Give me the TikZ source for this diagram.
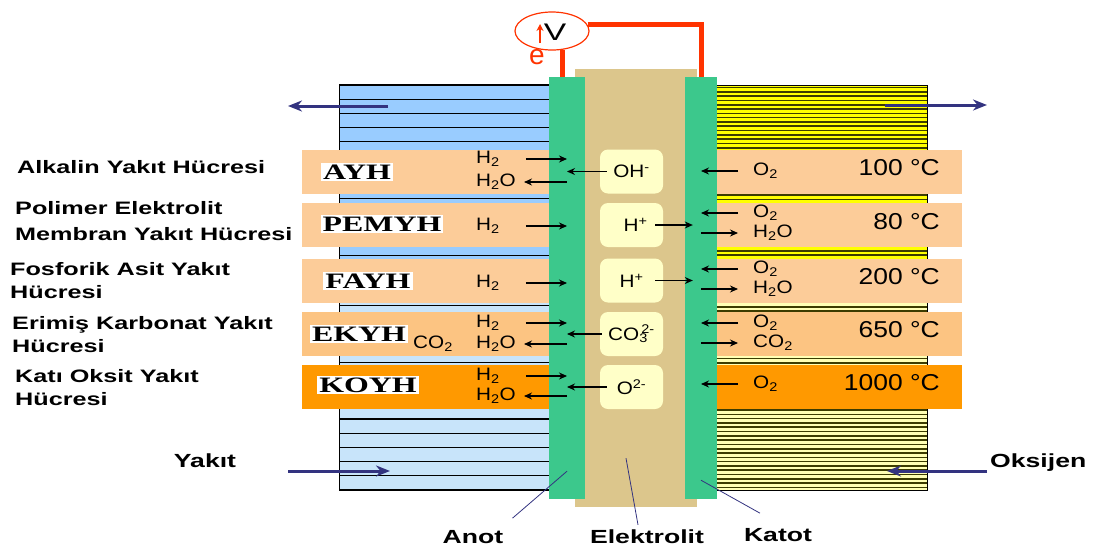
\documentclass[tikz,border=0pt]{standalone}
\usepackage{fontspec}
\setmainfont{Liberation Sans}[FakeStretch=1.4]
\newfontfamily\chemfont{Liberation Sans}[FakeStretch=1.15]
\newfontfamily\serfont{Liberation Serif}[FakeStretch=1.45]
\newfontfamily\plainfont{Liberation Sans}
\usetikzlibrary{positioning, arrows.meta, shapes.geometric, calc}
\definecolor{blueTop}{RGB}{153,204,255}
\definecolor{bluePale}{RGB}{200,228,250}
\definecolor{yelTop}{RGB}{255,255,0}
\definecolor{yelPale}{RGB}{255,255,180}
\definecolor{stripe}{RGB}{60,60,0}
\definecolor{bandA}{RGB}{252,204,153}
\definecolor{bandB}{RGB}{252,196,130}
\definecolor{bandC}{RGB}{255,153,0}
\definecolor{elgreen}{RGB}{60,200,140}
\definecolor{eltan}{RGB}{220,198,140}
\definecolor{ionfill}{RGB}{255,255,200}
\definecolor{navy}{RGB}{51,51,128}
\definecolor{wirered}{RGB}{255,51,0}

\begin{document}
\begin{tikzpicture}[x=1pt, y=-1pt, >=Stealth,
    chem/.style={font=\chemfont\fontsize{18}{20}\selectfont, inner sep=0pt, anchor=west},
    temp/.style={font=\chemfont\fontsize{23}{25}\selectfont, inner sep=0pt, anchor=east},
    lab/.style={font=\bfseries\fontsize{18}{23}\selectfont, inner sep=0pt, anchor=west, align=left},
    bot/.style={font=\bfseries\fontsize{19}{22}\selectfont, inner sep=0pt},
    cell/.style={font=\serfont\bfseries\fontsize{22}{24}\selectfont, fill=white, inner sep=2pt},
    ionbox/.style={fill=ionfill, rounded corners=8pt, minimum width=63, minimum height=44,
                   inner sep=0pt, font=\chemfont\fontsize{18}{20}\selectfont},
    electrode/.style={fill=elgreen, minimum height=422, inner sep=0pt},
    rx/.style={-{Stealth[length=8pt,width=7pt]}, line width=1.1pt},
    flow/.style={-{Stealth[length=14pt,width=11pt]}, line width=3pt, navy},
    ptr/.style={draw=navy, line width=0.8pt},
    wire/.style={draw=wirered, line width=5pt}]
  \useasboundingbox (0,0) rectangle (1097,550);

  % gas channels
  \fill[blueTop] (339,85) rectangle (549,300);
  \fill[bluePale] (339,300) rectangle (549,490);
  \foreach \y in {85,99.2,...,300} \draw[line width=1.2pt] (339,\y) -- (549,\y);
  \foreach \y in {490,475.8,...,300} \draw[line width=1.2pt] (339,\y) -- (549,\y);
  \draw[line width=1pt] (549,85) -- (339,85) -- (339,490) -- (549,490);
  \fill[yelTop] (717,85) rectangle (927,260);
  \fill[yelPale] (717,260) rectangle (927,490);
  \foreach \y in {87.5,91.8,...,489} \draw[stripe, line width=1.6pt] (717,\y) -- (927,\y);
  \draw[line width=1pt] (717,85) -- (927,85) -- (927,490) -- (717,490);

  % cell rows
  \foreach \y/\c in {171.5/bandA, 225/bandA, 280.5/bandA, 334/bandB, 387/bandC}
    \fill[\c] (302,\y-22) rectangle (962,\y+22);

  \node[fill=eltan, minimum width=122, minimum height=438, inner sep=0pt] (el) at (636,288) {};
  \node[electrode, minimum width=36] (an) at (567,288) {};
  \node[electrode, minimum width=32] (ka) at (701,288) {};

  \node[ionbox] (b1) at (631.5,171.5) {OH\textsuperscript{-}};
  \node[ionbox] (b2) at (631.5,225) {\hspace{8pt}H\textsuperscript{+}};
  \node[ionbox] (b3) at (631.5,280.5) {H\textsuperscript{+}};
  \node[ionbox] (b4) at (631.5,334) {CO\rlap{\textsubscript{3}}\textsuperscript{\,2-}};
  \node[ionbox] (b5) at (631.5,387) {O\textsuperscript{2-}};

  % voltmeter
  \node[draw=wirered, line width=1.2pt, ellipse, minimum width=74, minimum height=38,
        inner sep=0pt] (vm) at (552,31) {};
  \node[font=\fontsize{24}{26}\selectfont, inner sep=0pt] (vt) at (555,32) {V};
  \draw[-{Stealth[length=7pt,width=7pt]}, wirered, line width=1.3pt]
    ([xshift=-15,yshift=-11]vt.center) -- ([xshift=-15,yshift=8]vt.center);
  \node[font=\plainfont\fontsize{28}{30}\selectfont, text=wirered, inner sep=0pt] (ee) at (537,57) {e};
  \draw[wire] (vm.-60) -- (vm.-60 |- an.north);
  \draw[wire] (vm.10) -| (ka.north);

  % row labels
  \node[cell] (r1) at (357,172) {AYH};
  \node[cell] (r2) at (382,224) {PEMYH};
  \node[cell] (r3) at (368,281) {FAYH};
  \node[cell] (r4) at (359,334) {EKYH};
  \node[cell] (r5) at (368,385) {KOYH};

  \node[lab] (l1) at (17,167) {Alkalin Yakıt Hücresi};
  \node[lab] (l2) at (15,221) {Polimer Elektrolit\\[3pt]Membran Yakıt Hücresi};
  \node[lab] (l3) at (10,281) {Fosforik Asit Yakıt\\Hücresi};
  \node[lab] (l4) at (12,334.5) {Erimiş Karbonat Yakıt\\Hücresi};
  \node[lab] (l5) at (15,388) {Katı Oksit Yakıt\\Hücresi};

  % anode side
  \node[chem] (h1) at (476,159) {H\textsubscript{2}};
  \node[chem] (w1) at (476,182) {H\textsubscript{2}O};
  \node[chem] (h2) at (476,226) {H\textsubscript{2}};
  \node[chem] (h3) at (476,283) {H\textsubscript{2}};
  \node[chem] (h4) at (476,323) {H\textsubscript{2}};
  \node[chem] (w4) at (476,344) {H\textsubscript{2}O};
  \node[chem] (co4) at (413,344) {CO\textsubscript{2}};
  \node[chem] (h5) at (476,376) {H\textsubscript{2}};
  \node[chem] (w5) at (476,396) {H\textsubscript{2}O};

  \draw[rx] ([xshift=26]h1.east) -- (h1 -| an);
  \draw[rx] (w1 -| an) -- ([xshift=8]w1.east);
  \draw[rx] ([xshift=26]h2.east) -- (h2 -| an);
  \draw[rx] ([xshift=26]h3.east) -- (h3 -| an);
  \draw[rx] ([xshift=26]h4.east) -- (h4 -| an);
  \draw[rx] (w4 -| an) -- ([xshift=8]w4.east);
  \draw[rx] ([xshift=26]h5.east) -- (h5 -| an);
  \draw[rx] (w5 -| an) -- ([xshift=8]w5.east);

  % ions
  \draw[rx] ([xshift=7]b1.west) -- (b1 -| an);
  \draw[rx] ([xshift=-8]b2.east) -- ([xshift=8]b2 -| ka.west);
  \draw[rx] ([xshift=-8]b3.east) -- ([xshift=8]b3 -| ka.west);
  \draw[rx] ([xshift=2]b4.west) -- (b4 -| an);
  \draw[rx] ([xshift=7]b5.west) -- (b5 -| an);

  % cathode side
  \node[chem] (c1) at (753,171) {O\textsubscript{2}};
  \node[chem] (c2) at (753,213) {O\textsubscript{2}};
  \node[chem] (d2) at (753,233) {H\textsubscript{2}O};
  \node[chem] (c3) at (753,269) {O\textsubscript{2}};
  \node[chem] (d3) at (753,289) {H\textsubscript{2}O};
  \node[chem] (c4) at (753,323) {O\textsubscript{2}};
  \node[chem] (d4) at (753,343) {CO\textsubscript{2}};
  \node[chem] (c5) at (753,384) {O\textsubscript{2}};

  \draw[rx] ([xshift=-15]c1.west) -- (c1 -| ka);
  \draw[rx] ([xshift=-15]c2.west) -- (c2 -| ka);
  \draw[rx] (d2 -| ka) -- ([xshift=-15]d2.west);
  \draw[rx] ([xshift=-15]c3.west) -- (c3 -| ka);
  \draw[rx] (d3 -| ka) -- ([xshift=-15]d3.west);
  \draw[rx] ([xshift=-15]c4.west) -- (c4 -| ka);
  \draw[rx] (d4 -| ka) -- ([xshift=-15]d4.west);
  \draw[rx] ([xshift=-15]c5.west) -- (c5 -| ka);

  \node[temp] (t1) at (940,168) {100 °C};
  \node[temp] (t2) at (940,222) {80 °C};
  \node[temp] (t3) at (940,277) {200 °C};
  \node[temp] (t4) at (940,330) {650 °C};
  \node[temp] (t5) at (940,383) {1000 °C};

  % flows
  \coordinate (fa) at (388,106);
  \coordinate (fb) at (288,106);
  \coordinate (oa) at (885,105);
  \coordinate (ob) at (987,105);
  \coordinate (fc) at (288,471);
  \coordinate (fd) at (390,471);
  \coordinate (oc) at (987,471);
  \coordinate (od) at (887,471);
  \draw[flow] (fa) -- (fb);
  \draw[flow] (oa) -- (ob);
  \draw[flow] (fc) -- (fd);
  \draw[flow] (oc) -- (od);
  \node[bot] (fuel) at (205,461) {Yakıt};
  \node[bot, anchor=west] (oxy) at (990,463) {Oksijen};

  % parts
  \node[bot] (anot) at (473,537) {Anot};
  \node[bot] (elek) at (647,537) {Elektrolit};
  \node[bot] (katot) at (778,535) {Katot};
  \draw[ptr] ([xshift=9,yshift=12]anot.north east) -- ([yshift=28]an.south);
  \draw[ptr] ([xshift=-9,yshift=5]elek.north) -- ([xshift=-10,yshift=49]el.south);
  \draw[ptr] ([xshift=-18,yshift=15]katot.north) -- ([yshift=19]ka.south);
\end{tikzpicture}
\end{document}
